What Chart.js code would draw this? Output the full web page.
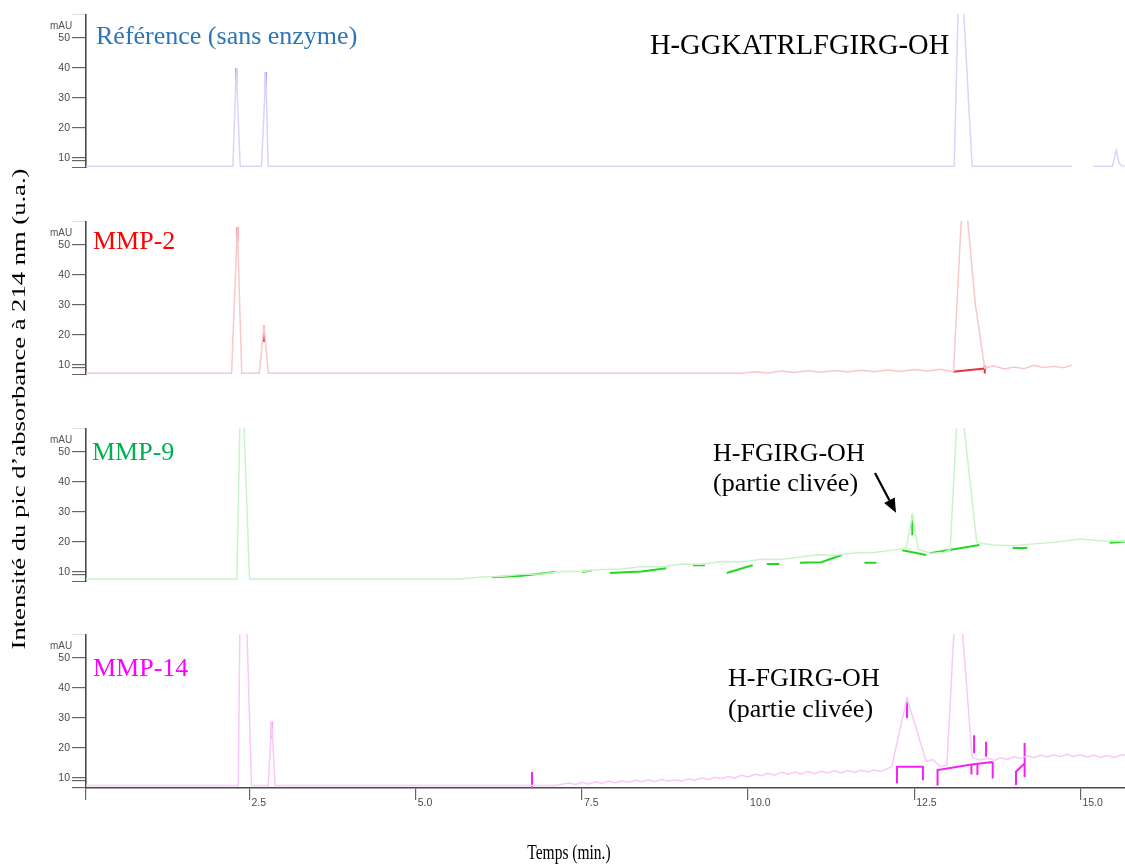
<!DOCTYPE html>
<html lang="fr">
<head>
<meta charset="utf-8">
<title>Chromatogrammes HPLC – H-GGKATRLFGIRG-OH</title>
<script src="https://cdn.jsdelivr.net/npm/chart.js@4.4.1/dist/chart.umd.min.js"></script>
<style>
  html, body { margin: 0; padding: 0; background: #fff; }
  #wrap {
    position: relative; width: 1125px; height: 865px; overflow: hidden;
    font-family: 'Liberation Serif', 'Times New Roman', serif;
  }
  #wrap canvas { position: absolute; left: 0; }
  .lbl  { position: absolute; white-space: nowrap; line-height: 1; }
  .mau  { position: absolute; left: 50px; font: 10px 'Liberation Sans Narrow', 'Liberation Sans', Arial, sans-serif; color: #555; line-height: 1; }
  #ytitle {
    position: absolute; left: 18px; top: 409px; font-size: 19px; white-space: nowrap; line-height: 1;
    transform: translate(-50%, -50%) rotate(-90deg) scaleX(1.4);
  }
  #xtitle {
    position: absolute; left: 569px; top: 852px; font-size: 15.5px; white-space: nowrap; line-height: 1;
    transform: translate(-50%, -50%) scaleY(1.4);
  }
</style>
</head>
<body>
<div id="wrap">
  <canvas id="c-ref"   width="1125" height="154" style="top:14px"></canvas>
  <canvas id="c-mmp2"  width="1125" height="154" style="top:221px"></canvas>
  <canvas id="c-mmp9"  width="1125" height="154" style="top:428px"></canvas>
  <canvas id="c-mmp14" width="1125" height="231" style="top:634px"></canvas>

  <div class="mau" style="top:21px">mAU</div>
  <div class="mau" style="top:228px">mAU</div>
  <div class="mau" style="top:435px">mAU</div>
  <div class="mau" style="top:641px">mAU</div>

  <div class="lbl" style="left:96px;top:23px;font-size:26px;color:#2e75b6">Référence (sans enzyme)</div>
  <div class="lbl" style="left:650px;top:31px;font-size:28.5px;color:#000">H-GGKATRLFGIRG-OH</div>
  <div class="lbl" style="left:93px;top:228px;font-size:26px;color:#ff0000">MMP-2</div>
  <div class="lbl" style="left:92px;top:439px;font-size:26px;color:#00b050">MMP-9</div>
  <div class="lbl" style="left:713px;top:440px;font-size:26px;color:#000">H-FGIRG-OH</div>
  <div class="lbl" style="left:713px;top:470px;font-size:26px;color:#000">(partie clivée)</div>
  <div class="lbl" style="left:93px;top:655px;font-size:26px;color:#ff00ff">MMP-14</div>
  <div class="lbl" style="left:728px;top:665px;font-size:26px;color:#000">H-FGIRG-OH</div>
  <div class="lbl" style="left:728px;top:696px;font-size:26px;color:#000">(partie clivée)</div>

  <svg width="1125" height="865" style="position:absolute;left:0;top:0;pointer-events:none">
    <line x1="875" y1="473" x2="889.4" y2="500.3" stroke="#000" stroke-width="2.2"/>
    <polygon points="896,512.7 884.1,503.1 894.7,497.5" fill="#000"/>
  </svg>

  <div id="ytitle">Intensité du pic d’absorbance à 214 nm (u.a.)</div>
  <div id="xtitle">Temps (min.)</div>
</div>

<script>
/* ═══════════════════════════════════════════════════════
   Chromatogrammes — 4 panneaux empilés, axe du temps commun
═══════════════════════════════════════════════════════ */

/* ── Axes ── */
const TIME_MIN    = 0.04;
const TIME_MAX    = 15.67;
const TIME_TICKS  = [0.04, 2.5, 5, 7.5, 10, 12.5, 15];
const TIME_LABELS = ['', '2.5', '5.0', '7.5', '10.0', '12.5', '15.0'];

const MAU_MIN    = 6.7;
const MAU_MAX    = 58;
const MAU_TICKS  = [6.7, 9.3, 10, 20, 30, 40, 50, 58];
const MAU_LABELS = ['', '', '10', '20', '30', '40', '50', ''];

/* ── Référence (sans enzyme) ── */
const refTime   = [0.04, 2.25, 2.30, 2.36, 2.68, 2.745, 2.78, 13.10, 13.16, 13.20, 13.24, 13.37, 14.87, 14.87, 15.19, 15.48, 15.54, 15.58, 15.62, 15.67];
const refSignal = [7.3,  7.3,  40,   7.3,  7.3,  38.7,  7.3,  7.3,   60,    75,    60,    7.3,   7.3,   null,  7.3,   7.3,   12.5,  8.5,   7.4,   7.3];
const refMarkTime   = [2.30, 2.30, null, 2.745, 2.745];
const refMarkSignal = [40,   34.5, null, 38.7,  33];

/* ── MMP-2 ── */
const mmp2Time = [0.04, 2.23, 2.317, 2.383, 2.647, 2.718, 2.783,
  9.9, 10.1, 10.3, 10.5, 10.7, 10.9, 11.1, 11.3, 11.5, 11.7, 11.9, 12.1, 12.3, 12.5, 12.7, 12.9,
  13.09, 13.22, 13.25, 13.28, 13.42, 13.56,
  13.7, 13.85, 14.0, 14.15, 14.3, 14.45, 14.6, 14.75, 14.87];
const mmp2Signal = [7.3, 7.3, 56, 7.3, 7.3, 23.3, 7.3,
  7.3, 7.8, 7.4, 8.0, 7.5, 8.1, 7.6, 8.2, 7.7, 8.3, 7.8, 8.4, 7.9, 8.5, 8.0, 8.6,
  7.8, 64, 70, 64, 30, 9.0,
  9.8, 8.7, 9.4, 8.8, 9.9, 9.2, 9.6, 9.1, 10.0];
const mmp2MarkTime   = [2.317, 2.317, null, 2.718, 2.718, null, 13.08, 13.56, null, 13.56, 13.56];
const mmp2MarkSignal = [56,    51,    null, 23.3,  17.7,  null, 7.8,   8.9,   null, 9.9,   7.2];

/* ── MMP-9 ── */
const mmp9Time = [0.04, 2.31, 2.355, 2.385, 2.415, 2.50, 5.67,
  6.0, 6.3, 6.6, 6.9, 7.2, 7.5, 7.8, 8.1, 8.4, 8.7, 9.0, 9.3, 9.6, 9.9, 10.2, 10.5, 10.8,
  11.08, 11.3, 11.6, 11.9, 12.2, 12.38, 12.47, 12.56, 12.75, 12.95,
  13.04, 13.14, 13.19, 13.24, 13.44,
  13.7, 14.0, 14.3, 14.6, 15.0, 15.3, 15.67];
const mmp9Signal = [7.7, 7.7, 60, 75, 60, 7.7, 7.7,
  8.4, 8.6, 9.3, 9.4, 10.2, 10.2, 10.9, 11.0, 11.9, 11.8, 12.7, 12.6, 13.5, 13.4, 14.3, 14.2, 15.1,
  15.8, 15.6, 16.4, 16.5, 17.4, 18.0, 29, 17.6, 16.2, 16.6,
  17.5, 60, 72, 60, 19.8,
  19.0, 18.8, 19.4, 19.9, 21.0, 20.4, 20.3];
const mmp9MarkTime = [6.15, 6.6, 7.1, null, 7.50, 7.65, null, 7.92, 8.4, 8.77, null, 9.17, 9.35, null,
  9.68, 9.9, 10.07, null, 10.28, 10.47, null, 10.78, 11.1, 11.41, null, 11.75, 11.93, null,
  12.32, 12.68, null, 12.73, 13.48, null, 12.47, 12.47, null, 13.98, 14.2, null, 15.44, 15.67];
const mmp9MarkSignal = [8.3, 8.8, 10.0, null, 10.0, 10.5, null, 9.7, 10.2, 11.3, null, 12.3, 12.3, null,
  9.7, 11.2, 12.3, null, 12.7, 12.7, null, 13.1, 13.3, 15.7, null, 13.1, 13.1, null,
  17.3, 15.7, null, 16.3, 19.0, null, 29, 22.3, null, 18.0, 18.0, null, 19.8, 20.2];

/* ── MMP-14 ── */
const mmp14Time = [0.04, 2.33, 2.355, 2.40, 2.46, 2.53, 2.78, 2.834, 2.884, 7.1,
  7.3, 7.4, 7.5, 7.6, 7.7, 7.8, 7.9, 8.0, 8.1, 8.2, 8.3, 8.4, 8.5, 8.6, 8.7, 8.8, 8.9, 9.0,
  9.1, 9.2, 9.3, 9.4, 9.5, 9.6, 9.7, 9.8, 9.9, 10.0, 10.1, 10.2, 10.3, 10.4, 10.5, 10.6,
  10.7, 10.8, 10.9, 11.0, 11.1, 11.2, 11.3, 11.4, 11.5, 11.6, 11.7, 11.8, 11.9, 12.0,
  12.16, 12.39, 12.68, 12.78, 12.89, 12.99, 13.10, 13.16, 13.22, 13.37, 13.49,
  13.6, 13.7, 13.8, 13.9, 14.0, 14.1, 14.2, 14.3, 14.4, 14.5, 14.6, 14.7, 14.8, 14.9,
  15.0, 15.1, 15.2, 15.3, 15.4, 15.5, 15.6, 15.67];
const mmp14Signal = [7.5, 7.5, 60, 80, 60, 7.5, 7.5, 28.8, 7.5, 7.5,
  8.4, 7.9, 8.6, 8.0, 8.8, 8.2, 9.0, 8.4, 9.1, 8.6, 9.3, 8.8, 9.4, 8.9, 9.5, 9.0, 9.4, 9.0,
  9.7, 9.3, 10.0, 9.5, 10.3, 9.8, 10.5, 10.0, 10.9, 10.4, 11.3, 10.8, 11.6, 11.0, 11.9, 11.3,
  12.0, 11.4, 12.2, 11.5, 12.3, 11.7, 12.4, 11.8, 12.5, 11.9, 12.6, 12.0, 12.7, 12.2,
  13.8, 36.6, 15.5, 16.2, 13.8, 14.2, 60, 66, 60, 17.0, 16.0,
  16.6, 15.9, 16.8, 16.2, 17.1, 16.5, 17.4, 16.8, 17.6, 17.0, 17.8, 17.1, 17.9, 17.2,
  17.8, 17.0, 17.6, 16.9, 17.5, 16.9, 17.6, 17.7];
const mmp14MarkTime = [2.834, 2.834, null, 6.75, 6.75, null, 12.39, 12.39, null,
  12.24, 12.24, 12.63, 12.63, null, 12.85, 12.85, 13.36, 13.68, null, 13.40, 13.40, null,
  13.36, 13.36, null, 13.45, 13.45, null, 13.58, 13.58, null, 13.68, 13.68, null,
  14.03, 14.03, 14.16, null, 14.16, 14.16];
const mmp14MarkSignal = [28.8, 23.3, null, 12, 6.7, null, 36.6, 30, null,
  8.2, 13.8, 13.8, 9.3, null, 7.5, 12.7, 14.5, 15.4, null, 24.3, 18.3, null,
  14.5, 11.2, null, 15.0, 11.0, null, 22.1, 17.1, null, 15.4, 9.9, null,
  7.7, 12.1, 14.9, null, 21.7, 10.4];

/* ─────────────────────────────────────────
   Outils
───────────────────────────────────────── */
const TICK_FONT = { family: "'Liberation Sans Narrow', 'Liberation Sans', Arial, sans-serif", size: 10.5 };
const AXIS_GREY = '#4a4a4a';

/* Paires temps / signal → points ; null = coupure de trace */
function toPoints(times, values) {
  let last = times[0];
  return times.map((t, i) => {
    if (t !== null) last = t;
    return { x: last, y: values[i] };
  });
}

function yScale() {
  return {
    type: 'linear',
    min: MAU_MIN,
    max: MAU_MAX,
    afterBuildTicks: s => { s.ticks = MAU_TICKS.map(v => ({ value: v })); },
    afterFit: s => { s.width = 86; s.paddingTop = 0; s.paddingBottom = 0; },
    ticks:  { callback: (v, i) => MAU_LABELS[i], autoSkip: false, color: AXIS_GREY, font: TICK_FONT, padding: 2 },
    grid:   { drawOnChartArea: false, tickLength: 14, color: '#666', lineWidth: 1.2 },
    border: { color: AXIS_GREY, width: 1.6 }
  };
}

function xScale(visible) {
  return {
    type: 'linear',
    min: TIME_MIN,
    max: TIME_MAX,
    display: visible,
    afterBuildTicks: s => { s.ticks = TIME_TICKS.map(v => ({ value: v })); },
    afterFit: s => {
      s.height = visible ? 77 : 0;
      s.paddingLeft = 0; s.paddingRight = 0;
    },
    ticks: {
      callback: (v, i) => TIME_LABELS[i],
      align: 'start', labelOffset: 2, padding: -3,
      maxRotation: 0, autoSkip: false,
      color: AXIS_GREY, font: TICK_FONT
    },
    grid:   { drawOnChartArea: false, tickLength: 12, color: '#666', lineWidth: 1.2 },
    border: { color: AXIS_GREY, width: 1.6 }
  };
}

/* ─────────────────────────────────────────
   Un panneau = trace pâle + marques d'intégration
───────────────────────────────────────── */
function renderPanel(id, trace, marks, traceColor, markColor, withTimeAxis) {
  new Chart(document.getElementById(id), {
    type: 'line',
    data: {
      datasets: [
        { data: trace, borderColor: traceColor, borderWidth: 1.5 },
        { data: marks, borderColor: markColor,  borderWidth: 2 }
      ]
    },
    options: {
      responsive: false,
      animation: false,
      devicePixelRatio: 1,
      layout: { padding: 0 },
      elements: { point: { radius: 0 }, line: { tension: 0 } },
      plugins: { legend: { display: false }, tooltip: { enabled: false } },
      scales: { x: xScale(withTimeAxis), y: yScale() }
    }
  });
}

renderPanel('c-ref',
  toPoints(refTime, refSignal), toPoints(refMarkTime, refMarkSignal),
  'rgb(214,214,250)', 'rgb(60,60,225)', false);

renderPanel('c-mmp2',
  toPoints(mmp2Time, mmp2Signal), toPoints(mmp2MarkTime, mmp2MarkSignal),
  'rgb(250,200,200)', 'rgb(240,45,60)', false);

renderPanel('c-mmp9',
  toPoints(mmp9Time, mmp9Signal), toPoints(mmp9MarkTime, mmp9MarkSignal),
  'rgb(200,244,200)', 'rgb(35,215,35)', false);

renderPanel('c-mmp14',
  toPoints(mmp14Time, mmp14Signal), toPoints(mmp14MarkTime, mmp14MarkSignal),
  'rgb(250,200,250)', 'rgb(240,35,240)', true);
</script>
</body>
</html>
